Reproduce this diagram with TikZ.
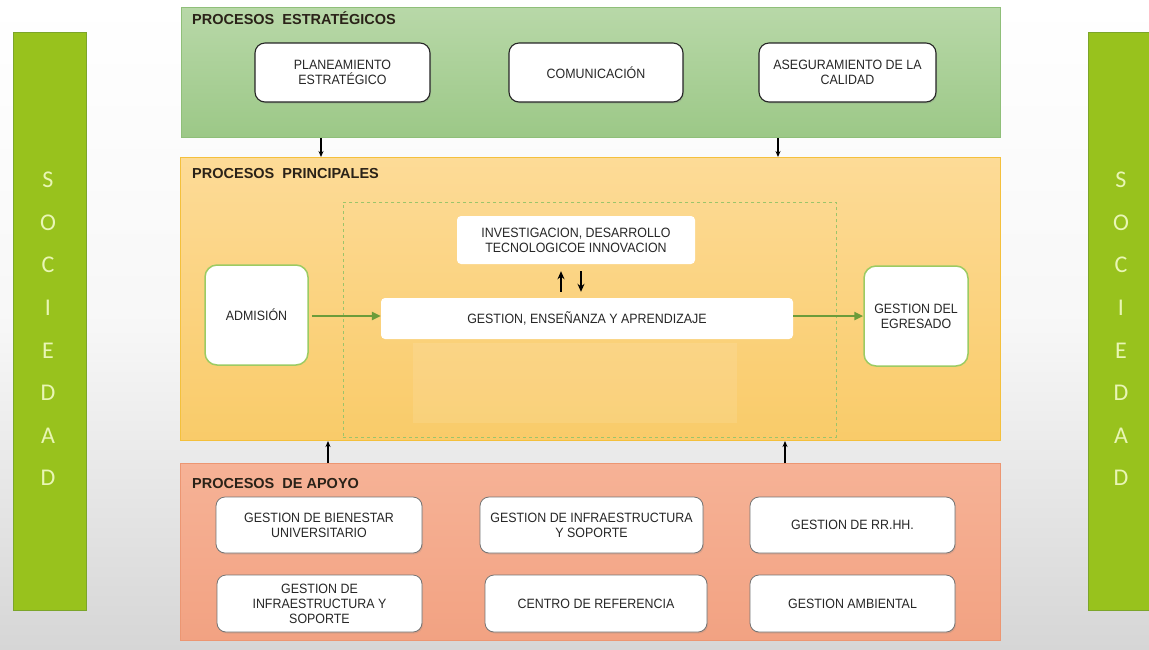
\documentclass[tikz,border=0pt]{standalone}
\usepackage{fontspec}
\newfontfamily\boxfont[FakeStretch=0.92]{Liberation Sans}
\newfontfamily\titlefont{Liberation Sans}
\newfontfamily\socfont{Carlito}
\usetikzlibrary{arrows.meta,shadows}
\definecolor{bgbot}{HTML}{D6D6D6}
\definecolor{socfill}{HTML}{98C21D}
\definecolor{socborder}{HTML}{7CA52A}
\definecolor{soctext}{HTML}{E9F6B5}
\definecolor{gTop}{HTML}{B8D8A8}
\definecolor{gBot}{HTML}{9CC887}
\definecolor{gBorder}{HTML}{8FBF79}
\definecolor{oTop}{HTML}{FDDB97}
\definecolor{oBot}{HTML}{F9CB69}
\definecolor{oBorder}{HTML}{F4C03C}
\definecolor{sTop}{HTML}{F6B296}
\definecolor{sBot}{HTML}{F2A282}
\definecolor{sBorder}{HTML}{EC9672}
\definecolor{flowgreen}{HTML}{6C9C3A}
\definecolor{dashgreen}{HTML}{9CC46A}
\definecolor{admborder}{HTML}{9CCB63}
\definecolor{titletext}{HTML}{2A2218}
\begin{document}
\begin{tikzpicture}[x=1pt,y=-1pt,
  panel/.style={anchor=north west, line width=1pt, inner sep=0pt},
  soc/.style={anchor=north west, fill=socfill, draw=socborder, line width=0.8pt, inner sep=0pt},
  soclet/.style={font=\socfont\fontsize{24}{24}\selectfont, text=soctext},
  ptitle/.style={anchor=west, font=\titlefont\bfseries\fontsize{14.5}{15}\selectfont, text=titletext, inner sep=0pt},
  boxtext/.style={align=center, font=\boxfont\fontsize{13.5}{15}\selectfont, text=black!85, inner sep=2pt},
  sbox/.style={boxtext, fill=white, draw=black!85, line width=1.1pt, rounded corners=10pt,
     drop shadow={shadow xshift=1pt, shadow yshift=-1.5pt, opacity=0.25}},
  abox/.style={boxtext, fill=white, draw=black!55, line width=0.8pt, rounded corners=9pt,
     drop shadow={shadow xshift=1pt, shadow yshift=-1.5pt, opacity=0.2}},
  pbox/.style={boxtext, fill=white, draw=none, rounded corners=4pt},
  gbox/.style={boxtext, fill=white, draw=admborder, line width=1.5pt, rounded corners=12pt},
  darr/.style={-{Stealth[length=6pt,width=5pt]}, line width=1.1pt, black},
  uarr/.style={-{Stealth[length=8pt,width=7pt]}, line width=2.2pt, black},
  farr/.style={-{Triangle[length=9pt,width=8pt]}, line width=2.5pt, flowgreen}
]
\useasboundingbox (0,0) rectangle (1149,649);
\shade[top color=white, bottom color=bgbot, middle color=black!3] (0,0) rectangle (1149,649);

% SOCIEDAD bars
\node[soc, minimum width=73pt, minimum height=578pt] (socL) at (13,32) {};
\node[soc, minimum width=63pt, minimum height=578pt] (socR) at (1088,32) {};
\foreach \l [count=\i from 0] in {S,O,C,I,E,D,A,D}{
  \node[soclet] (sl\i) at (48,{180+\i*42.6}) {\l};
  \node[soclet] (sr\i) at (1121,{180+\i*42.6}) {\l};
}

% Panels
\node[panel, draw=gBorder, top color=gTop, bottom color=gBot, minimum width=819pt, minimum height=130pt] (estr) at (181,7) {};
\node[panel, draw=oBorder, top color=oTop, bottom color=oBot, minimum width=820pt, minimum height=283pt] (princ) at (180,157) {};
\node[panel, draw=sBorder, top color=sTop, bottom color=sBot, minimum width=820pt, minimum height=177pt] (apoyo) at (180,463) {};

\node[ptitle] (t1) at (192,18) {PROCESOS\ \ ESTRATÉGICOS};
\node[ptitle] (t2) at (192,174) {PROCESOS\ \ PRINCIPALES};
\node[ptitle] (t3) at (192,483) {PROCESOS\ \ DE APOYO};

% Strategic boxes
\node[sbox, minimum width=175pt, minimum height=59pt] (plan) at (342.5,72.5) {PLANEAMIENTO\\ESTRATÉGICO};
\node[sbox, minimum width=174pt, minimum height=59pt] (comu) at (596,72.5) {COMUNICACIÓN};
\node[sbox, minimum width=177pt, minimum height=59pt] (aseg) at (847.5,72.5) {ASEGURAMIENTO DE LA\\CALIDAD};

% Principal processes
\fill[white, opacity=0.1] (413,343) rectangle (737,423);
\node[panel, draw=dashgreen, dashed, line width=0.8pt, minimum width=493pt, minimum height=235pt] (dash) at (343,202) {};
\node[pbox, minimum width=238pt, minimum height=48pt] (inv) at (576,240) {INVESTIGACION, DESARROLLO\\TECNOLOGICOE INNOVACION};
\node[pbox, minimum width=412pt, minimum height=41pt] (gea) at (587,318.5) {GESTION, ENSEÑANZA Y APRENDIZAJE};
\node[gbox, minimum width=103pt, minimum height=100pt] (adm) at (256.5,315) {ADMISIÓN};
\node[gbox, minimum width=104pt, minimum height=100pt] (egr) at (916,316) {GESTION DEL\\EGRESADO};

\coordinate (fy) at (0,316);
\draw[farr] (adm.east |- fy) ++(3,0) -- (gea.west |- fy);
\draw[farr] (gea.east |- fy) -- (egr.west |- fy);
\coordinate (up1) at (561,0);
\coordinate (dn1) at (581,0);
\draw[uarr] ([yshift=6pt]gea.north -| up1) -- ([yshift=-7pt]inv.south -| up1);
\draw[uarr] ([yshift=-7pt]inv.south -| dn1) -- ([yshift=6pt]gea.north -| dn1);

% vertical connectors between panels
\coordinate (c1) at (321,0);
\coordinate (c2) at (778,0);
\coordinate (c3) at (328,0);
\coordinate (c4) at (785,0);
\draw[darr] (estr.south -| c1) -- (princ.north -| c1);
\draw[darr] (estr.south -| c2) -- (princ.north -| c2);
\draw[darr] (apoyo.north -| c3) -- (princ.south -| c3);
\draw[darr] (apoyo.north -| c4) -- (princ.south -| c4);

% Support boxes
\node[abox, minimum width=206pt, minimum height=56pt] (a1) at (319,525) {GESTION DE BIENESTAR\\UNIVERSITARIO};
\node[abox, minimum width=223pt, minimum height=56pt] (a2) at (591.5,525) {GESTION DE INFRAESTRUCTURA\\Y SOPORTE};
\node[abox, minimum width=205pt, minimum height=56pt] (a3) at (852.5,525) {GESTION DE RR.HH.};
\node[abox, minimum width=205pt, minimum height=57pt] (a4) at (319.5,603.5) {GESTION DE\\INFRAESTRUCTURA Y\\SOPORTE};
\node[abox, minimum width=222pt, minimum height=57pt] (a5) at (596,603.5) {CENTRO DE REFERENCIA};
\node[abox, minimum width=205pt, minimum height=57pt] (a6) at (852.5,603.5) {GESTION AMBIENTAL};
\end{tikzpicture}
\end{document}
